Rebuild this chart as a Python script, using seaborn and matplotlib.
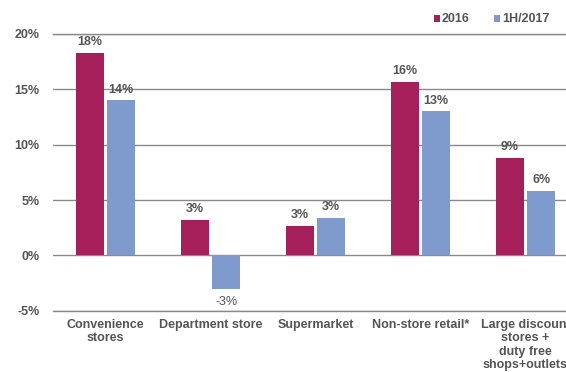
import matplotlib
matplotlib.use("Agg")
import matplotlib.pyplot as plt
import seaborn as sns
import pandas as pd
from matplotlib.patches import Patch

categories = ["Convenience\nstores", "Department store", "Supermarket",
              "Non-store retail*", "Large discount\nstores +\nduty free\nshops+outlets"]
series_names = ["2016", "1H/2017"]
values_2016 = [18.3, 3.2, 2.65, 15.7, 8.8]
values_1h2017 = [14.0, -3.0, 3.4, 13.0, 5.8]
labels_2016 = ["18%", "3%", "3%", "16%", "9%"]
labels_1h2017 = ["14%", "-3%", "3%", "13%", "6%"]
yticks = [-5, 0, 5, 10, 15, 20]
ytick_labels = ["-5%", "0%", "5%", "10%", "15%", "20%"]

colors = ["#A61E5A", "#7F9ACC"]
textc = "#555555"
gridc = "#8a8a8a"

df = pd.DataFrame({
    "category": categories * 2,
    "series": [series_names[0]] * 5 + [series_names[1]] * 5,
    "value": values_2016 + values_1h2017,
})

sns.set_style("white")
plt.rcParams["font.family"] = ["Liberation Sans", "DejaVu Sans"]

W, H = 566, 372
fig = plt.figure(figsize=(W / 100, H / 100), dpi=100)
ax = fig.add_axes([53 / W, 1 - 310.7 / H, 1 - 53 / W, (310.7 - 34) / H])

sns.barplot(data=df, x="category", y="value", hue="series", order=categories,
            hue_order=series_names, palette=colors, width=0.6, gap=0.11,
            saturation=1, ax=ax, legend=False, edgecolor="none")

ax.set_ylim(-5, 20)
ax.set_xlim(-0.5, (W - 53) / 105 - 0.5)
ax.set_yticks(yticks)
ax.set_yticklabels(ytick_labels)
ax.yaxis.grid(True, color=gridc, linewidth=1)
ax.set_axisbelow(True)
for s in ["left", "right"]:
    ax.spines[s].set_visible(False)
for s in ["top", "bottom"]:
    ax.spines[s].set_color(gridc)
    ax.spines[s].set_linewidth(1)
ax.tick_params(axis="y", length=0, pad=9.5, labelsize=9, labelcolor=textc)
ax.tick_params(axis="x", length=0, pad=6, labelsize=9, labelcolor=textc)
for t in ax.get_yticklabels() + ax.get_xticklabels():
    t.set_fontweight("bold")
    t.set_linespacing(1.15)
ax.set_xlabel("")
ax.set_ylabel("")

for cont, labs in zip(ax.containers, [labels_2016, labels_1h2017]):
    for bar, lab in zip(cont, labs):
        h = bar.get_height()
        x = bar.get_x() + bar.get_width() / 2
        if h >= 0:
            ax.annotate(lab, (x, h), xytext=(0, 3.5), textcoords="offset points",
                        ha="center", va="bottom", fontsize=9, fontweight="bold", color=textc)
        else:
            ax.annotate(lab, (x, h), xytext=(0, -5.5), textcoords="offset points",
                        ha="center", va="top", fontsize=9, color=textc)

handles = [Patch(facecolor=c, edgecolor="none") for c in colors]
fig.legend(handles, series_names, loc="center left", bbox_to_anchor=(434 / W, 1 - 19.5 / H),
           ncol=2, frameon=False, handlelength=0.5, handleheight=0.5, handletextpad=0.15,
           columnspacing=1.9, borderpad=0, borderaxespad=0,
           prop={"weight": "bold", "size": 9}, labelcolor=textc)

fig.savefig("out.png", dpi=100)
